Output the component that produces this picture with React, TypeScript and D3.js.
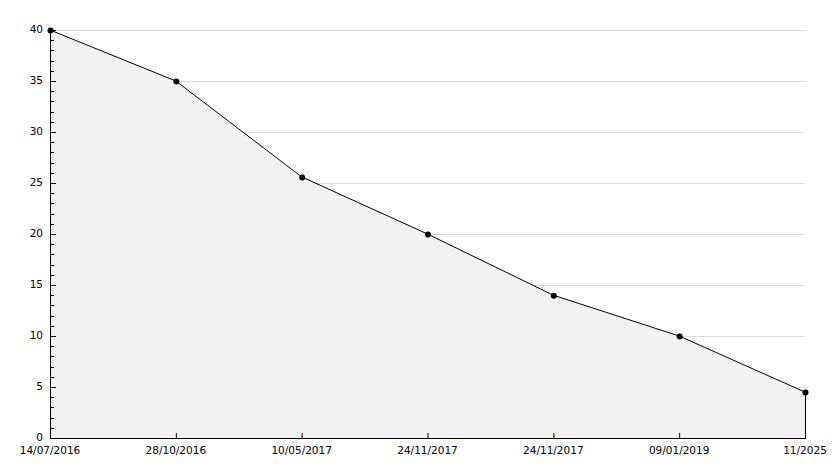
import React, { useEffect, useRef } from 'react';
import * as d3 from 'd3';

const dates = ['14/07/2016', '28/10/2016', '10/05/2017', '24/11/2017', '24/11/2017', '09/01/2019', '11/2025'];
const values = [40, 35, 25.6, 20, 14, 10, 4.5];
const yTicks = [0, 5, 10, 15, 20, 25, 30, 35, 40];

const App = () => {
  const ref = useRef<SVGSVGElement>(null);

  useEffect(() => {
    const svg = d3.select(ref.current);
    svg.selectAll('*').remove();

    const left = 50, right = 805, top = 30, bottom = 438;

    const x = d3.scalePoint<number>()
      .domain(d3.range(dates.length))
      .range([left, right]);

    const y = d3.scaleLinear()
      .domain([0, 40])
      .range([bottom, top]);

    const font = 'DejaVu Sans, Verdana, sans-serif';

    // grid
    svg.append('g')
      .selectAll('line')
      .data(yTicks.filter(t => t > 0))
      .join('line')
        .attr('x1', left)
        .attr('x2', right)
        .attr('y1', d => y(d) + 0.5)
        .attr('y2', d => y(d) + 0.5)
        .attr('stroke', '#dcdcdc')
        .attr('stroke-width', 1);

    const pts = values.map((v, i) => [x(i)!, y(v)] as [number, number]);

    // area
    const area = d3.area<[number, number]>()
      .x(d => d[0])
      .y0(bottom)
      .y1(d => d[1]);

    svg.append('path')
      .datum(pts)
      .attr('d', area)
      .attr('fill', '#f2f2f2');

    // right edge
    svg.append('line')
      .attr('x1', right + 0.5)
      .attr('x2', right + 0.5)
      .attr('y1', y(values[values.length - 1]))
      .attr('y2', bottom)
      .attr('stroke', '#000');

    // line
    svg.append('path')
      .datum(pts)
      .attr('d', d3.line())
      .attr('fill', 'none')
      .attr('stroke', '#000')
      .attr('stroke-width', 1);

    // axes
    svg.append('line')
      .attr('x1', left + 0.5).attr('x2', left + 0.5)
      .attr('y1', top).attr('y2', bottom + 0.5)
      .attr('stroke', '#000');
    svg.append('line')
      .attr('x1', left).attr('x2', right + 1)
      .attr('y1', bottom + 0.5).attr('y2', bottom + 0.5)
      .attr('stroke', '#000');

    // y minor ticks
    svg.append('g')
      .selectAll('line')
      .data(d3.range(0, 41).filter(v => v % 5 !== 0))
      .join('line')
        .attr('x1', left)
        .attr('x2', left + 4)
        .attr('y1', d => Math.round(y(d)) + 0.5)
        .attr('y2', d => Math.round(y(d)) + 0.5)
        .attr('stroke', '#000');

    // y major ticks + labels
    svg.append('g')
      .selectAll('line')
      .data(yTicks)
      .join('line')
        .attr('x1', left)
        .attr('x2', left + 6)
        .attr('y1', d => Math.round(y(d)) + 0.5)
        .attr('y2', d => Math.round(y(d)) + 0.5)
        .attr('stroke', '#000');

    svg.append('g')
      .selectAll('text')
      .data(yTicks)
      .join('text')
        .attr('x', left - 7)
        .attr('y', d => y(d) - 1)
        .attr('dy', '0.35em')
        .attr('text-anchor', 'end')
        .attr('font-family', font)
        .attr('font-size', 10.5)
        .text(d => d);

    // x ticks + labels
    svg.append('g')
      .selectAll('line')
      .data(d3.range(dates.length))
      .join('line')
        .attr('x1', d => x(d)! + 0.5)
        .attr('x2', d => x(d)! + 0.5)
        .attr('y1', bottom)
        .attr('y2', bottom - 5)
        .attr('stroke', '#000');

    svg.append('g')
      .selectAll('text')
      .data(dates)
      .join('text')
        .attr('x', (d, i) => x(i)!)
        .attr('y', bottom + 16)
        .attr('text-anchor', 'middle')
        .attr('font-family', font)
        .attr('font-size', 10.5)
        .text(d => d);

    // markers
    svg.append('g')
      .selectAll('circle')
      .data(pts)
      .join('circle')
        .attr('cx', d => d[0] + 0.5)
        .attr('cy', d => d[1] + 0.5)
        .attr('r', 3)
        .attr('fill', '#000');
  }, []);

  return (
    <svg ref={ref} width={834} height={468} style={{ position: 'absolute', left: 0, top: 0 }}></svg>
  );
};

export default App;
